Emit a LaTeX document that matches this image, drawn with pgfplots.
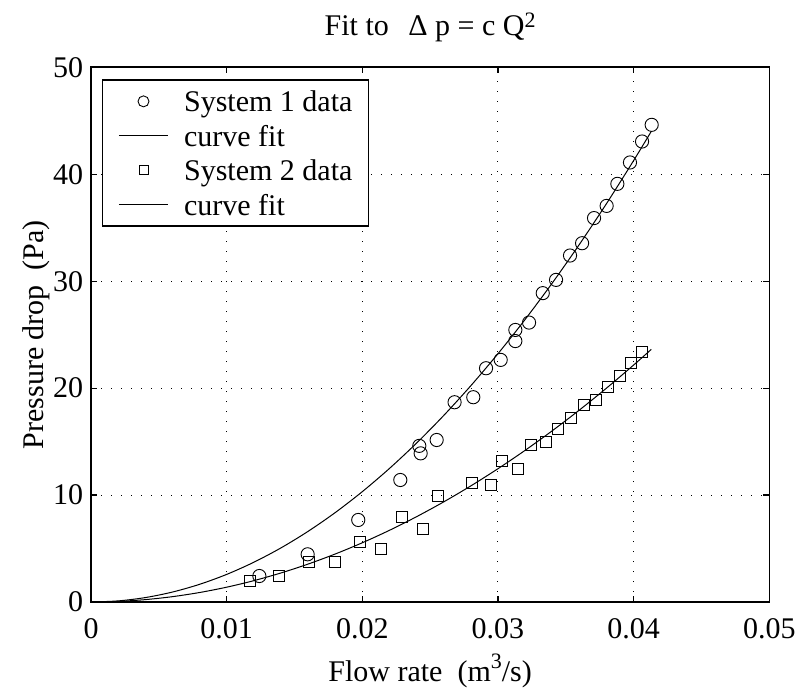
\documentclass[border=0pt]{standalone}
\usepackage{fontspec}
\setmainfont{Liberation Serif}
\usepackage{pgfplots}
\pgfplotsset{compat=1.18}
\begin{document}
\begin{tikzpicture}
\begin{axis}[
  scale only axis, width=678.3bp, height=534.7bp,
  xmin=0, xmax=0.05, ymin=0, ymax=50,
  scaled x ticks=false, scaled y ticks=false,
  xtick={0,0.01,0.02,0.03,0.04,0.05}, xticklabels={0,0.01,0.02,0.03,0.04,0.05},
  ytick={0,10,20,30,40,50}, yticklabels={0,10,20,30,40,50},
  tick align=inside, major tick length=6bp,
  tick style={line width=1.2bp, black},
  axis line style={line width=1.6bp},
  grid=major,
  major grid style={line width=1bp, dash pattern=on 1bp off 9bp, black},
  font=\fontsize{30bp}{36bp}\selectfont,
  xticklabel style={anchor=base, yshift=-36.3bp},
  yticklabel style={anchor=east, inner sep=0pt, xshift=-7.7bp},
  title={Fit to\hspace{0.65em}Δ p = c Q\raisebox{8.7bp}{\fontsize{22bp}{22bp}\selectfont 2}},
  title style={at={(axis description cs:0.5,1.0479)}, anchor=base},
  xlabel={Flow rate\hspace{0.5em}(m\raisebox{13bp}{\fontsize{22bp}{22bp}\selectfont 3}/s)},
  xlabel style={at={(axis description cs:0.5,-0.149)}, anchor=base},
  ylabel={Pressure drop\hspace{0.5em}(Pa)},
  ylabel style={at={(axis description cs:-0.0693,0.5)}, anchor=base, rotate=0},
  legend style={at={(axis description cs:0,1)}, anchor=north west,
    xshift=10.7bp, yshift=-12bp, draw=black, line width=1.6bp,
    inner xsep=16bp, inner ysep=4bp, column sep=15.6bp,
    font=\fontsize{30bp}{36bp}\selectfont,
    nodes={inner xsep=0bp, inner ysep=2.75bp, text height=25bp, text depth=4bp}},
  legend cell align=left,
]
\addplot[only marks, mark=o, mark size=6.6bp, mark options={line width=0.9bp}, black,
  legend image code/.code={\draw[black, line width=0.9bp] (24.5bp,0bp) circle[radius=5.5bp]; \path[draw=none] (0bp,0bp) -- (49bp,0bp);}]
  coordinates {
  (0.01241,2.43) (0.01597,4.46) (0.0197,7.67) (0.0228,11.41) (0.0242,14.6)
  (0.0243,13.9) (0.02548,15.15) (0.0268,18.68) (0.02818,19.15) (0.02912,21.86)
  (0.0302,22.64) (0.03128,25.44) (0.03128,24.4) (0.03229,26.13) (0.0333,28.88)
  (0.03428,30.12) (0.03531,32.4) (0.0362,33.55) (0.03708,35.9) (0.03801,37.04)
  (0.0388,39.1) (0.03973,41.1) (0.04062,43.06) (0.04133,44.62)
  };
\addlegendentry{System 1 data}
\addplot[black, line width=1bp, smooth,
  legend image code/.code={\draw[black, line width=1bp] (0bp,0bp) -- (49bp,0bp);}]
  coordinates {
  (0,0) (0.002,0.1032) (0.004,0.4128) (0.006,0.9288) (0.008,1.6512) (0.010,2.58)
  (0.012,3.7152) (0.014,5.0568) (0.016,6.6048) (0.018,8.3592) (0.020,10.32)
  (0.022,12.4872) (0.024,14.8608) (0.026,17.4408) (0.028,20.2272) (0.030,23.22)
  (0.032,26.4192) (0.034,29.8248) (0.036,33.4368) (0.038,37.2552) (0.040,41.28)
  (0.0413,44.007)
  };
\addlegendentry{curve fit}
\addplot[only marks, mark=square, mark size=5.5bp, mark options={line width=0.9bp}, black,
  legend image code/.code={\draw[black, line width=0.9bp] (20bp,-4.5bp) rectangle (29bp,4.5bp); \path[draw=none] (0bp,0bp) -- (49bp,0bp);}]
  coordinates {
  (0.0117,1.96) (0.01388,2.46) (0.01607,3.71) (0.01799,3.71) (0.0198,5.58)
  (0.02138,4.96) (0.0229,7.92) (0.02447,6.83) (0.0256,9.94) (0.0281,11.16)
  (0.02948,10.94) (0.0303,13.19) (0.03148,12.41) (0.03243,14.66) (0.03352,14.94)
  (0.0344,16.15) (0.03538,17.18) (0.03632,18.43) (0.0372,18.9) (0.03811,20.14)
  (0.039,21.14) (0.0398,22.39) (0.04059,23.42)
  };
\addlegendentry{System 2 data}
\addplot[black, line width=1bp, smooth,
  legend image code/.code={\draw[black, line width=1bp] (0bp,0bp) -- (49bp,0bp);}]
  coordinates {
  (0,0) (0.002,0.0554) (0.004,0.2216) (0.006,0.4986) (0.008,0.8864) (0.010,1.385)
  (0.012,1.9944) (0.014,2.7146) (0.016,3.5456) (0.018,4.4874) (0.020,5.54)
  (0.022,6.7034) (0.024,7.9776) (0.026,9.3626) (0.028,10.8584) (0.030,12.465)
  (0.032,14.1824) (0.034,16.0106) (0.036,17.9496) (0.038,19.9994) (0.040,22.16)
  (0.0413,23.624)
  };
\addlegendentry{curve fit}
\end{axis}
\path (current axis.south west) ++(-91bp,-87bp) coordinate (bbA);
\path (current axis.north east) ++(42.7bp,67.3bp) coordinate (bbB);
\path (bbA) rectangle (bbB);
\end{tikzpicture}
\end{document}
